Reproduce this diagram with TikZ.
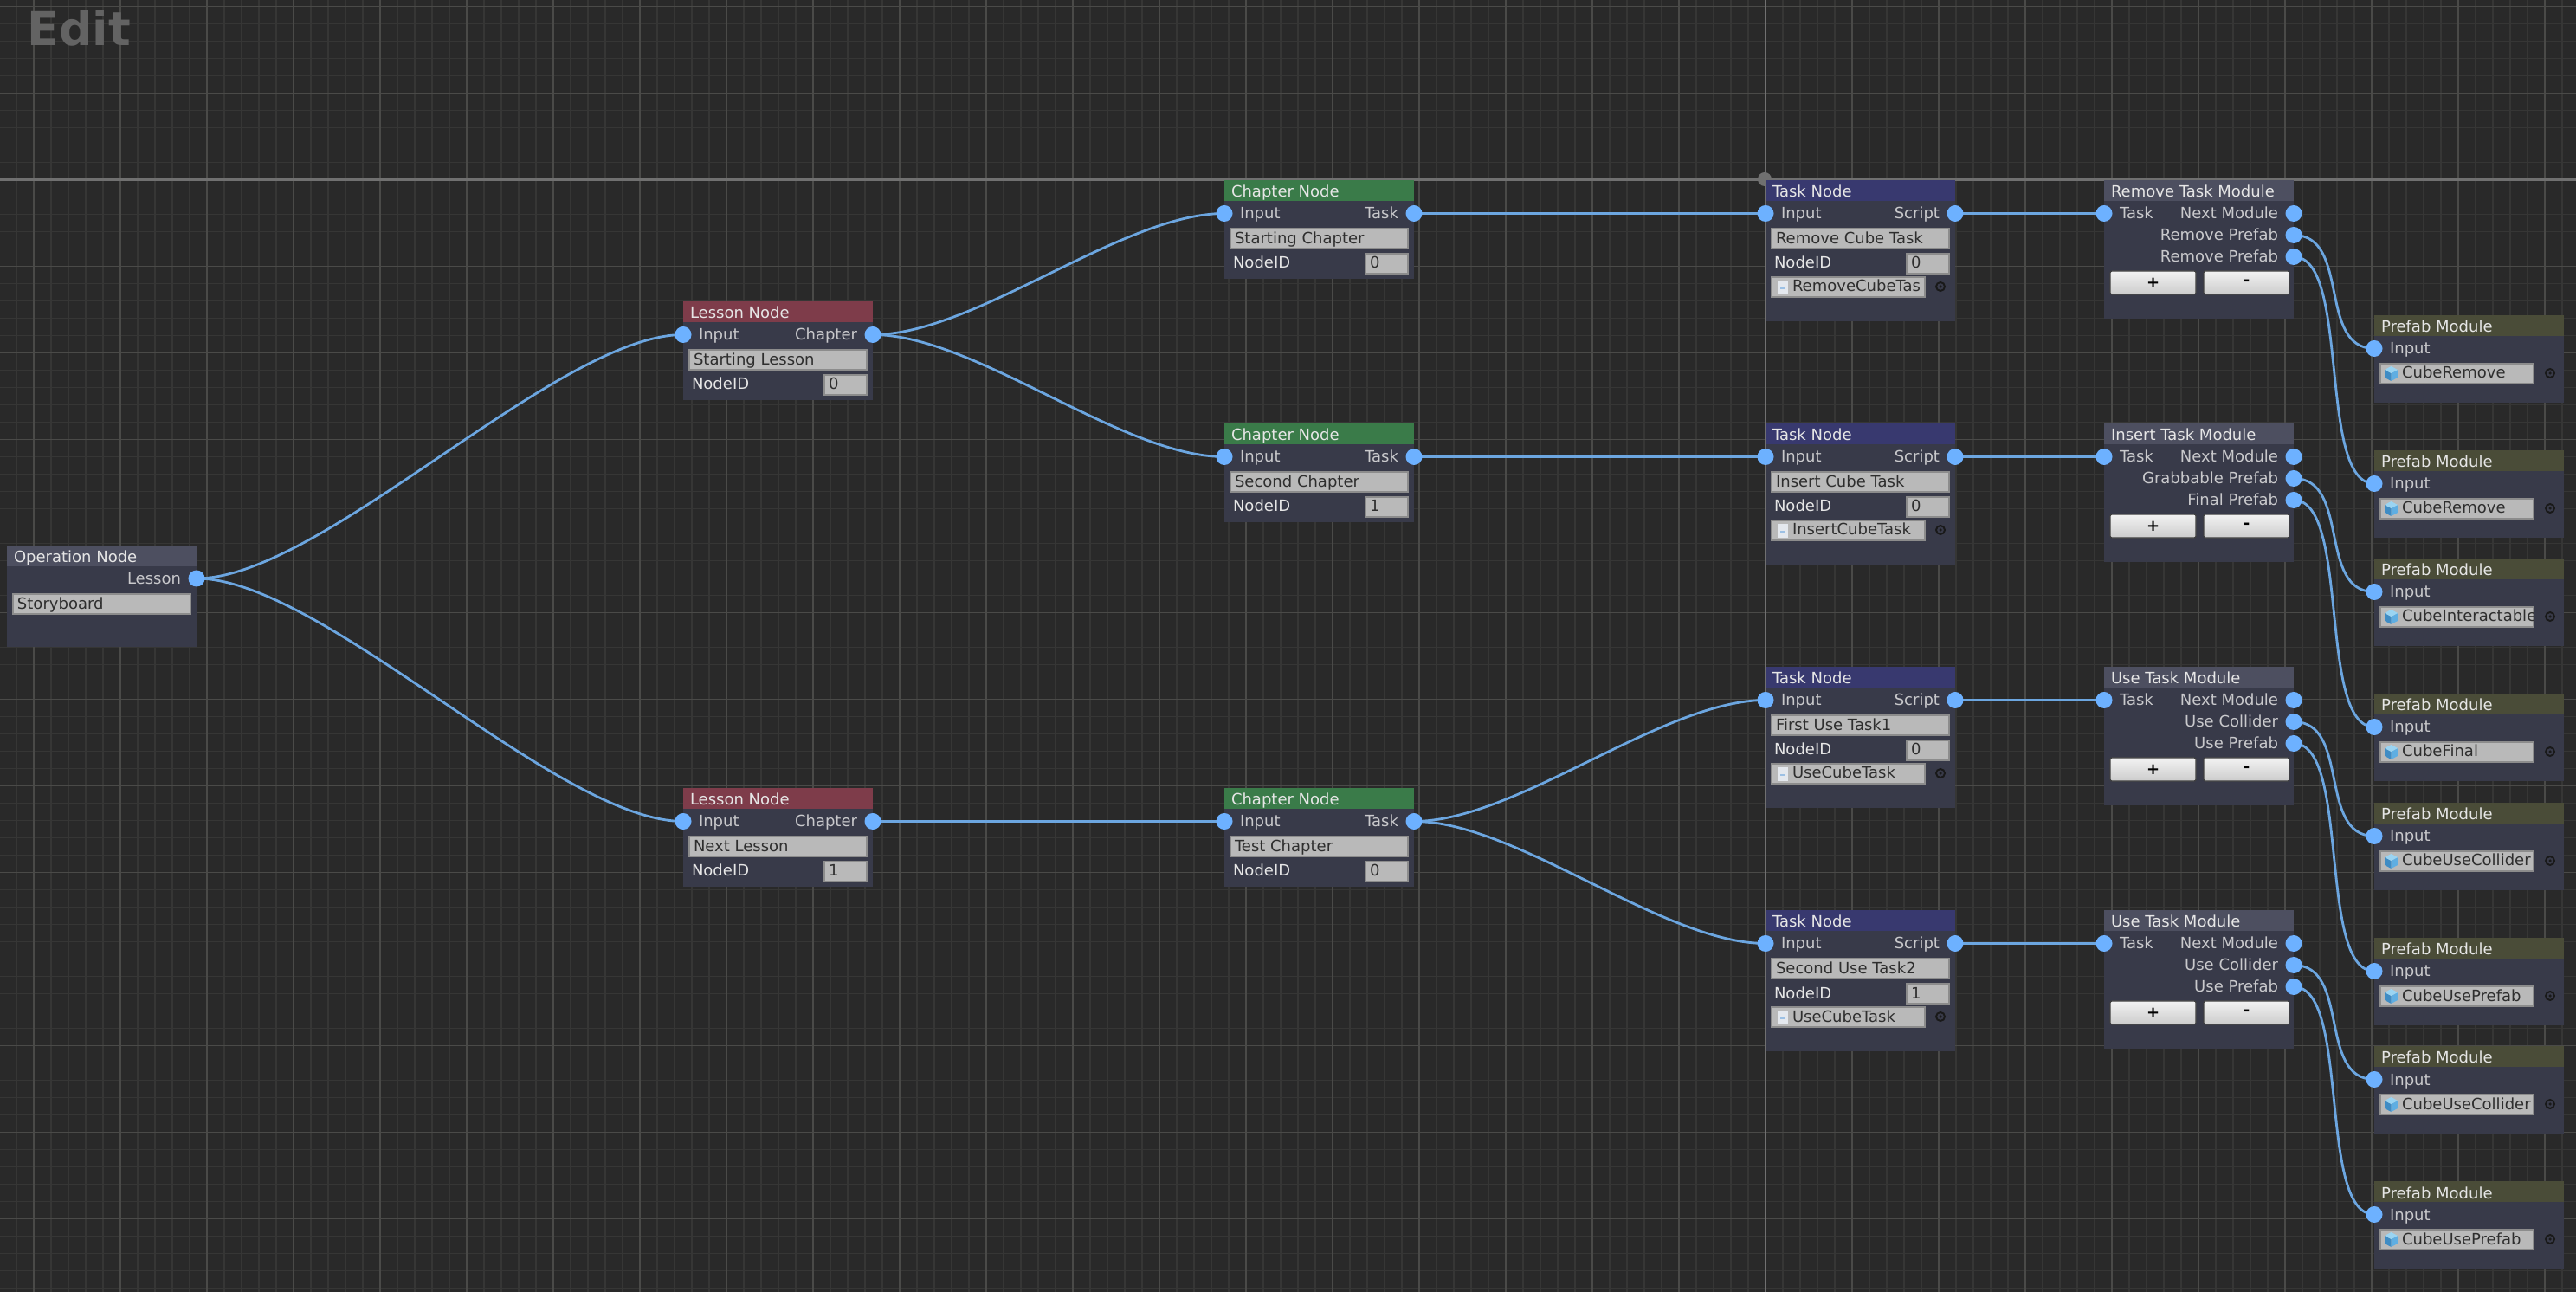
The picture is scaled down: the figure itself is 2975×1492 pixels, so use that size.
\documentclass[tikz,border=0pt]{standalone}
\usepackage{fontspec}
\setmainfont{DejaVu Sans}
\usetikzlibrary{calc}
\pgfdeclarelayer{gridlayer}
\pgfdeclarelayer{wirelayer}
\pgfsetlayers{gridlayer,wirelayer,main}
\definecolor{bgc}{HTML}{292929}
\definecolor{minorc}{HTML}{363635}
\definecolor{majorc}{HTML}{4A4A48}
\definecolor{axisc}{HTML}{707070}
\definecolor{bodyc}{HTML}{383A49}
\definecolor{headdef}{HTML}{4D4F60}
\definecolor{headles}{HTML}{7E3C4A}
\definecolor{headcha}{HTML}{3A7B49}
\definecolor{headtas}{HTML}{38396F}
\definecolor{headpre}{HTML}{4A4C38}
\definecolor{fieldc}{HTML}{B9B9B9}
\definecolor{fieldb}{HTML}{8C8C8C}
\definecolor{sockc}{HTML}{6DB1FF}
\definecolor{wirec}{HTML}{6CA6E0}
\definecolor{labc}{HTML}{C9C9CC}
\definecolor{headtxt}{HTML}{E6E6E6}
\definecolor{edc}{HTML}{636363}
\definecolor{cubetop}{HTML}{9AD4F2}
\definecolor{cubeleft}{HTML}{3F8CC4}
\definecolor{cuberight}{HTML}{5FAEE2}
\definecolor{pagec}{HTML}{E4E8EE}
\definecolor{pagem}{HTML}{9CC0E4}
\newcommand{\uifont}{\fontsize{5.12}{6}\selectfont}
\tikzset{
  x=0.01cm,y=-0.01cm,
  bodybox/.style={fill=bodyc,inner sep=0,outer sep=0,anchor=north west,minimum width=2.19cm},
  headbox/.style={inner sep=0,outer sep=0,anchor=north west,minimum width=2.19cm,minimum height=0.235cm},
  headtext/.style={inner sep=0,outer sep=0,anchor=base west,text=headtxt,font=\uifont},
  lableft/.style={inner sep=0,outer sep=0,anchor=base west,text=labc,font=\uifont},
  labright/.style={inner sep=0,outer sep=0,anchor=base east,text=labc,font=\uifont},
  labid/.style={inner sep=0,outer sep=0,anchor=base west,text=headtxt,font=\uifont},
  fieldbox/.style={fill=fieldc,draw=fieldb,line width=0.4pt,inner sep=0,outer sep=0,anchor=north west,minimum height=0.23cm},
  fieldtext/.style={inner sep=0,outer sep=0,anchor=base west,text=black!82,font=\uifont},
  socket/.style={circle,fill=sockc,inner sep=0,outer sep=0,minimum size=0.19cm},
  wire/.style={draw=wirec,line width=0.8pt},
  picker/.style={circle,draw=black!90,line width=0.55pt,inner sep=0,outer sep=0,minimum size=0.1cm},
  pickdot/.style={circle,fill=black!90,inner sep=0,outer sep=0,minimum size=0.035cm},
  btn/.style={rounded corners=0.6pt,top color=white!95!black,bottom color=black!20,draw=black!75,line width=0.35pt,inner sep=0,outer sep=0,anchor=north west,minimum width=0.99cm,minimum height=0.27cm,text=black,font=\bfseries\uifont},
}
% name x y headcolour title outlabel field id
\newcommand{\idnode}[8]{%
  \node[bodybox,minimum height=1.14cm] (#1) at (#2,#3) {};
  \node[headbox,fill=#4] (#1h) at (#2,#3) {};
  \node[headtext] (#1t) at ({#2+8},{#3+20}) {#5};
  \node[socket] (#1I) at (#2,{#3+38.5}) {};
  \node[socket] (#1O) at ({#2+219},{#3+38.5}) {};
  \node[lableft] (#1il) at ({#2+18},{#3+45}) {Input};
  \node[labright] (#1ol) at ({#2+201},{#3+45}) {#6};
  \node[fieldbox,minimum width=2.05cm] (#1f) at ({#2+7},{#3+56}) {};
  \node[fieldtext] (#1ft) at ({#2+12},{#3+74}) {#7};
  \node[labid] (#1dl) at ({#2+10},{#3+102}) {NodeID};
  \node[fieldbox,minimum width=0.49cm] (#1v) at ({#2+163},{#3+85}) {};
  \node[fieldtext] (#1vt) at ({#2+168},{#3+102}) {#8};
}
% name x y field id script
\newcommand{\tasknode}[6]{%
  \node[bodybox,minimum height=1.63cm] (#1) at (#2,#3) {};
  \node[headbox,fill=headtas] (#1h) at (#2,#3) {};
  \node[headtext] (#1t) at ({#2+8},{#3+20}) {Task Node};
  \node[socket] (#1I) at (#2,{#3+38.5}) {};
  \node[socket] (#1O) at ({#2+219},{#3+38.5}) {};
  \node[lableft] (#1il) at ({#2+18},{#3+45}) {Input};
  \node[labright] (#1ol) at ({#2+201},{#3+45}) {Script};
  \node[fieldbox,minimum width=2.05cm] (#1f) at ({#2+7},{#3+56}) {};
  \node[fieldtext] (#1ft) at ({#2+12},{#3+74}) {#4};
  \node[labid] (#1dl) at ({#2+10},{#3+102}) {NodeID};
  \node[fieldbox,minimum width=0.49cm] (#1v) at ({#2+163},{#3+85}) {};
  \node[fieldtext] (#1vt) at ({#2+168},{#3+102}) {#5};
  \node[fieldbox,minimum width=1.77cm] (#1s) at ({#2+7},{#3+112}) {};
  \fill[pagec] ({#2+14},{#3+116}) rectangle ({#2+26},{#3+132});
  \fill[pagem] ({#2+17},{#3+124}) rectangle ({#2+23},{#3+126});
  \node[fieldtext] (#1st) at ({#2+31},{#3+129}) {#6};
  \node[picker] (#1p) at ({#2+202},{#3+123}) {};
  \node[pickdot] (#1q) at ({#2+202},{#3+123}) {};
}
% name x y title label2 label3
\newcommand{\modulenode}[6]{%
  \node[bodybox,minimum height=1.60cm] (#1) at (#2,#3) {};
  \node[headbox,fill=headdef] (#1h) at (#2,#3) {};
  \node[headtext] (#1t) at ({#2+8},{#3+20}) {#4};
  \node[socket] (#1T) at (#2,{#3+38.5}) {};
  \node[socket] (#1N) at ({#2+219},{#3+38.5}) {};
  \node[socket] (#1A) at ({#2+219},{#3+63.5}) {};
  \node[socket] (#1B) at ({#2+219},{#3+88.5}) {};
  \node[lableft] (#1il) at ({#2+18},{#3+45}) {Task};
  \node[labright] (#1nl) at ({#2+201},{#3+45}) {Next Module};
  \node[labright] (#1al) at ({#2+201},{#3+70}) {#5};
  \node[labright] (#1bl) at ({#2+201},{#3+95}) {#6};
  \node[btn] (#1p) at ({#2+7},{#3+105}) {+};
  \node[btn] (#1m) at ({#2+115},{#3+105}) {-};
}
% name x y text
\newcommand{\prefabnode}[4]{%
  \node[bodybox,minimum height=1.01cm] (#1) at (#2,#3) {};
  \node[headbox,fill=headpre] (#1h) at (#2,#3) {};
  \node[headtext] (#1t) at ({#2+8},{#3+20}) {Prefab Module};
  \node[socket] (#1I) at (#2,{#3+38.5}) {};
  \node[lableft] (#1il) at ({#2+18},{#3+45}) {Input};
  \node[fieldbox,minimum width=1.77cm] (#1f) at ({#2+7},{#3+56}) {};
  \fill[cubeleft] ({#2+19.5},{#3+76}) -- ({#2+12},{#3+72}) -- ({#2+12},{#3+63}) -- ({#2+19.5},{#3+67}) -- cycle;
  \fill[cuberight] ({#2+19.5},{#3+76}) -- ({#2+27},{#3+72}) -- ({#2+27},{#3+63}) -- ({#2+19.5},{#3+67}) -- cycle;
  \fill[cubetop] ({#2+19.5},{#3+59}) -- ({#2+27},{#3+63}) -- ({#2+19.5},{#3+67}) -- ({#2+12},{#3+63}) -- cycle;
  \begin{scope}
    \clip ({#2+7},{#3+56}) rectangle ({#2+184},{#3+79});
    \node[fieldtext] (#1ft) at ({#2+32},{#3+73}) {#4};
  \end{scope}
  \node[picker] (#1p) at ({#2+203},{#3+67}) {};
  \node[pickdot] (#1q) at ({#2+203},{#3+67}) {};
}
\newcommand{\wireto}[2]{%
  \draw[wire] let \p1=(#1.center),\p2=(#2.center),\n1={0.5cm+0.17*(\x2-\x1)} in
    (\p1) .. controls (\x1+\n1,\y1) and (\x2-\n1,\y2) .. (\p2);
}
\begin{document}
\begin{tikzpicture}
\useasboundingbox (0,0) rectangle (2975,1492);
\begin{pgfonlayer}{gridlayer}
  \fill[bgc] (0,0) rectangle (2975,1492);
  \foreach \i in {0,...,149} {\draw[minorc,line width=0.35pt] ({\i*20-1},0) -- ({\i*20-1},1492);}
  \foreach \i in {0,...,75} {\draw[minorc,line width=0.35pt] (0,{\i*20+7.5}) -- (2975,{\i*20+7.5});}
  \foreach \i in {0,...,29} {\draw[majorc,line width=0.45pt] ({\i*100+39},0) -- ({\i*100+39},1492);}
  \foreach \i in {0,...,14} {\draw[majorc,line width=0.45pt] (0,{\i*100+7.5}) -- (2975,{\i*100+7.5});}
  \draw[axisc,line width=0.6pt] (2039,0) -- (2039,1492);
  \draw[axisc,line width=0.6pt] (0,207.5) -- (2975,207.5);
  \fill[axisc] (2038,207) circle (8);
\end{pgfonlayer}
\node[inner sep=0,outer sep=0,anchor=base west,text=edc,font=\bfseries\fontsize{15.3}{18}\selectfont] (edit) at (31.5,53) {Edit};
% Operation node
\node[bodybox,minimum height=1.17cm] (op) at (8,630) {};
\node[headbox,fill=headdef] (oph) at (8,630) {};
\node[headtext] (opt) at (16,650) {Operation Node};
\node[socket] (opO) at (227,668) {};
\node[labright] (opl) at (209,674.5) {Lesson};
\node[fieldbox,minimum width=2.05cm] (opf) at (15,686) {};
\node[fieldtext] (opft) at (20,704) {Storyboard};
% Lesson nodes
\idnode{la}{789}{348}{headles}{Lesson Node}{Chapter}{Starting Lesson}{0}
\idnode{lb}{789}{910}{headles}{Lesson Node}{Chapter}{Next Lesson}{1}
% Chapter nodes
\idnode{ca}{1414}{208}{headcha}{Chapter Node}{Task}{Starting Chapter}{0}
\idnode{cb}{1414}{489}{headcha}{Chapter Node}{Task}{Second Chapter}{1}
\idnode{cc}{1414}{910}{headcha}{Chapter Node}{Task}{Test Chapter}{0}
% Task nodes
\tasknode{ta}{2039}{208}{Remove Cube Task}{0}{RemoveCubeTas}
\tasknode{tb}{2039}{489}{Insert Cube Task}{0}{InsertCubeTask}
\tasknode{tc}{2039}{770}{First Use Task1}{0}{UseCubeTask}
\tasknode{td}{2039}{1051}{Second Use Task2}{1}{UseCubeTask}
% Modules
\modulenode{ma}{2430}{208}{Remove Task Module}{Remove Prefab}{Remove Prefab}
\modulenode{mb}{2430}{489}{Insert Task Module}{Grabbable Prefab}{Final Prefab}
\modulenode{mc}{2430}{770}{Use Task Module}{Use Collider}{Use Prefab}
\modulenode{md}{2430}{1051}{Use Task Module}{Use Collider}{Use Prefab}
% Prefabs
\prefabnode{pa}{2742}{364}{CubeRemove}
\prefabnode{pb}{2742}{520}{CubeRemove}
\prefabnode{pc}{2742}{645}{CubeInteractable}
\prefabnode{pd}{2742}{801}{CubeFinal}
\prefabnode{pe}{2742}{927}{CubeUseCollider}
\prefabnode{pf}{2742}{1083}{CubeUsePrefab}
\prefabnode{pg}{2742}{1208}{CubeUseCollider}
\prefabnode{ph}{2742}{1364}{CubeUsePrefab}
% Wires
\begin{pgfonlayer}{wirelayer}
\wireto{opO}{laI}
\wireto{opO}{lbI}
\wireto{laO}{caI}
\wireto{laO}{cbI}
\wireto{lbO}{ccI}
\wireto{caO}{taI}
\wireto{cbO}{tbI}
\wireto{ccO}{tcI}
\wireto{ccO}{tdI}
\wireto{taO}{maT}
\wireto{tbO}{mbT}
\wireto{tcO}{mcT}
\wireto{tdO}{mdT}
\wireto{maA}{paI}
\wireto{maB}{pbI}
\wireto{mbA}{pcI}
\wireto{mbB}{pdI}
\wireto{mcA}{peI}
\wireto{mcB}{pfI}
\wireto{mdA}{pgI}
\wireto{mdB}{phI}
\end{pgfonlayer}
\end{tikzpicture}
\end{document}
